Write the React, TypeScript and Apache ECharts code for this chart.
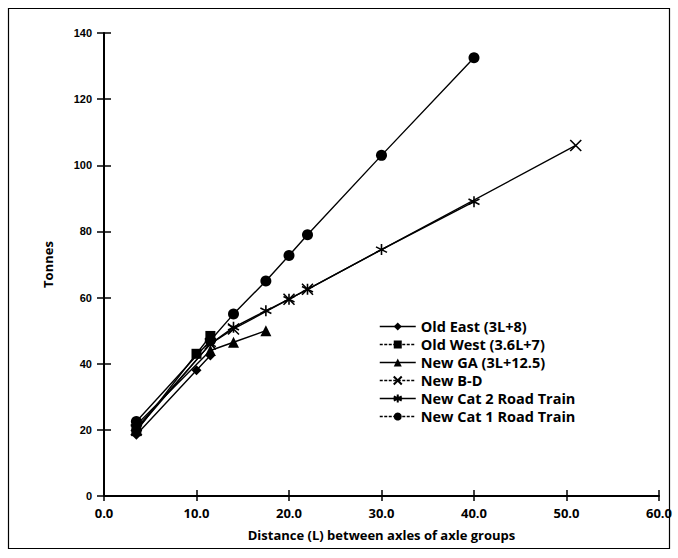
import React, { useEffect, useRef } from "react";
import * as echarts from "echarts";

const seriesNames = [
  "Old East (3L+8)",
  "Old West (3.6L+7)",
  "New GA (3L+12.5)",
  "New B-D",
  "New Cat 2 Road Train",
  "New Cat 1 Road Train",
];

const oldEast: [number, number][] = [[3.5, 18.5], [10, 38], [11.5, 42.5]];
const oldWest: [number, number][] = [[3.5, 19.6], [10, 43], [11.5, 48.4]];
const newGA: [number, number][] = [[3.5, 21.5], [11.5, 44], [14, 46.5], [17.5, 50]];
const newBD: [number, number][] = [[3.5, 20], [11.5, 46], [14, 50.5], [20, 59.5], [22, 62.5], [51, 106]];
const newCat2: [number, number][] = [[3.5, 20.5], [11.5, 46], [14, 51], [17.5, 56], [20, 59.5], [22, 62.5], [30, 74.5], [40, 89]];
const newCat1: [number, number][] = [[3.5, 22.5], [11.5, 47], [14, 55], [17.5, 65], [20, 72.7], [22, 79], [30, 103], [40, 132.5]];

const xTicks = { min: 0, max: 60, interval: 10 };
const yTicks = { min: 0, max: 140, interval: 20 };

const symbols = [
  "diamond",
  "rect",
  "triangle",
  "path://M0,0L10,10M10,0L0,10",
  "path://M5,0L5,10M0.7,2.5L9.3,7.5M9.3,2.5L0.7,7.5",
  "circle",
];
const symbolSizes = [10, 10, 11, 11, 11, 11];
const legendDash = ["solid", [3, 1.5], "solid", [3, 1.5], "solid", [3, 1.5]];
const datasets = [oldEast, oldWest, newGA, newBD, newCat2, newCat1];

export default function App() {
  const ref = useRef<HTMLDivElement>(null);
  useEffect(() => {
    if (!ref.current) return;
    const chart = echarts.init(ref.current, undefined, { renderer: "svg" });
    const font = "'Liberation Sans', Arial, sans-serif";
    const sans = "'Open Sans', sans-serif";
    chart.setOption({
      animation: false,
      backgroundColor: "#fff",
      textStyle: { fontFamily: font },
      grid: { left: 104, right: 19, top: 33, bottom: 62, containLabel: false },
      graphic: [
        {
          type: "rect",
          shape: { x: 8.5, y: 8.5, width: 661, height: 540 },
          style: { fill: "none", stroke: "#000", lineWidth: 1.2 },
          silent: true,
        },
      ],
      legend: {
        left: 374,
        top: 314,
        orient: "vertical",
        itemWidth: 36,
        itemHeight: 10,
        itemGap: 3,
        textStyle: { fontFamily: sans, fontWeight: "bold", fontSize: 14.5, color: "#000" },
        data: seriesNames.map((n, i) => ({
          name: n,
          lineStyle: { type: legendDash[i], width: 1.5, color: "#000" },
        })),
      },
      xAxis: [
        {
          type: "value",
          ...xTicks,
          name: "Distance (L) between axles of axle groups",
          nameLocation: "middle",
          nameGap: 32,
          nameTextStyle: { fontFamily: sans, fontWeight: "bold", fontSize: 13, color: "#000" },
          axisLine: { show: true, onZero: false, lineStyle: { color: "#000", width: 2 } },
          axisTick: { show: true, length: 5, lineStyle: { color: "#000", width: 1.5 } },
          splitLine: { show: false },
          axisLabel: {
            formatter: (v: number) => v.toFixed(1),
            fontFamily: sans,
            fontWeight: "bold",
            fontSize: 13,
            color: "#000",
            margin: 10,
          },
        },
        {
          type: "value",
          ...xTicks,
          position: "bottom",
          axisLine: { show: false },
          axisTick: { show: true, inside: true, length: 6, lineStyle: { color: "#000", width: 1.5 } },
          axisLabel: { show: false },
          splitLine: { show: false },
        },
      ],
      yAxis: [
        {
          type: "value",
          ...yTicks,
          name: "Tonnes",
          nameLocation: "middle",
          nameGap: 50,
          nameRotate: 90,
          nameTextStyle: { fontFamily: sans, fontWeight: "bold", fontSize: 13, color: "#000" },
          axisLine: { show: true, onZero: false, lineStyle: { color: "#000", width: 2 } },
          axisTick: { show: true, length: 7, lineStyle: { color: "#000", width: 1.5 } },
          splitLine: { show: false },
          axisLabel: {
            fontFamily: font,
            fontWeight: "bold",
            fontSize: 11,
            color: "#000",
            margin: 12,
          },
        },
        {
          type: "value",
          ...yTicks,
          position: "left",
          axisLine: { show: false },
          axisTick: { show: true, inside: true, length: 7, lineStyle: { color: "#000", width: 1.5 } },
          axisLabel: { show: false },
          splitLine: { show: false },
        },
      ],
      series: datasets.map((d, i) => ({
        name: seriesNames[i],
        type: "line",
        data: d,
        symbol: symbols[i],
        symbolSize: symbolSizes[i],
        showSymbol: true,
        lineStyle: { color: "#000", width: 1.4 },
        itemStyle: { color: "#000", borderColor: "#000", borderWidth: i === 3 || i === 4 ? 1.6 : 0 },
        z: 2 + i,
      })),
    });
    return () => chart.dispose();
  }, []);
  return (
    <div
      ref={ref}
      style={{ position: "absolute", left: 0, top: 0, width: 678, height: 558 }}
    />
  );
}
